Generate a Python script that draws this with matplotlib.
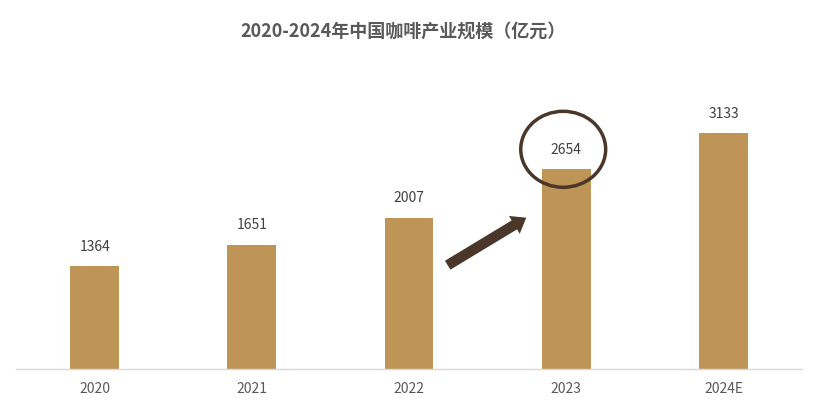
#!/usr/bin/env python

# matplotlib
import matplotlib
matplotlib.use("Agg")
import matplotlib.pyplot as plt
from matplotlib.patches import Ellipse

plt.rcParams['font.family'] = ['Noto Sans CJK SC', 'DejaVu Sans']

# data
years = ["2020", "2021", "2022", "2023", "2024E"]
scale = [1364, 1651, 2007, 2654, 3133]
title = "2020-2024年中国咖啡产业规模（亿元）"

bar_color = "#BF9457"
dark_brown = "#4A3729"

fig = plt.figure(figsize=(8.25, 4.1), dpi=100)
ax = fig.add_axes([0.0194, 0.0976, 0.953, 0.756])

x = range(len(years))
bars = ax.bar(x, scale, width=0.31, color=bar_color)

# value labels above bars
for xi, v in zip(x, scale):
    ax.text(xi, v + 180, str(v), ha="center", va="bottom",
            fontsize=10, color="#404040")

ax.set_xlim(-0.5, len(years) - 0.5)
ax.set_ylim(0, 4120)
ax.set_xticks(list(x))
ax.set_xticklabels(years, fontsize=10, color="#595959")
ax.tick_params(axis="x", length=0, pad=9)
ax.set_yticks([])
for side in ["left", "right", "top"]:
    ax.spines[side].set_visible(False)
ax.spines["bottom"].set_color("#D9D9D9")
ax.spines["bottom"].set_linewidth(1.0)

# circle around the 2023 value
ax.add_patch(Ellipse((2.98, 2920), 0.54, 1010, fill=False,
                     edgecolor=dark_brown, linewidth=2.5, zorder=5))

# growth arrow
ax.annotate("", xy=(2.76, 2030), xytext=(2.23, 1360),
            arrowprops=dict(arrowstyle="simple,head_width=1.5,head_length=1.0,tail_width=0.75",
                            color=dark_brown, lw=0), zorder=5)

fig.text(0.488, 0.925, title, ha="center", va="center",
         fontsize=13, fontweight="bold", color="#595959")

fig.savefig("out.png", dpi=100)
